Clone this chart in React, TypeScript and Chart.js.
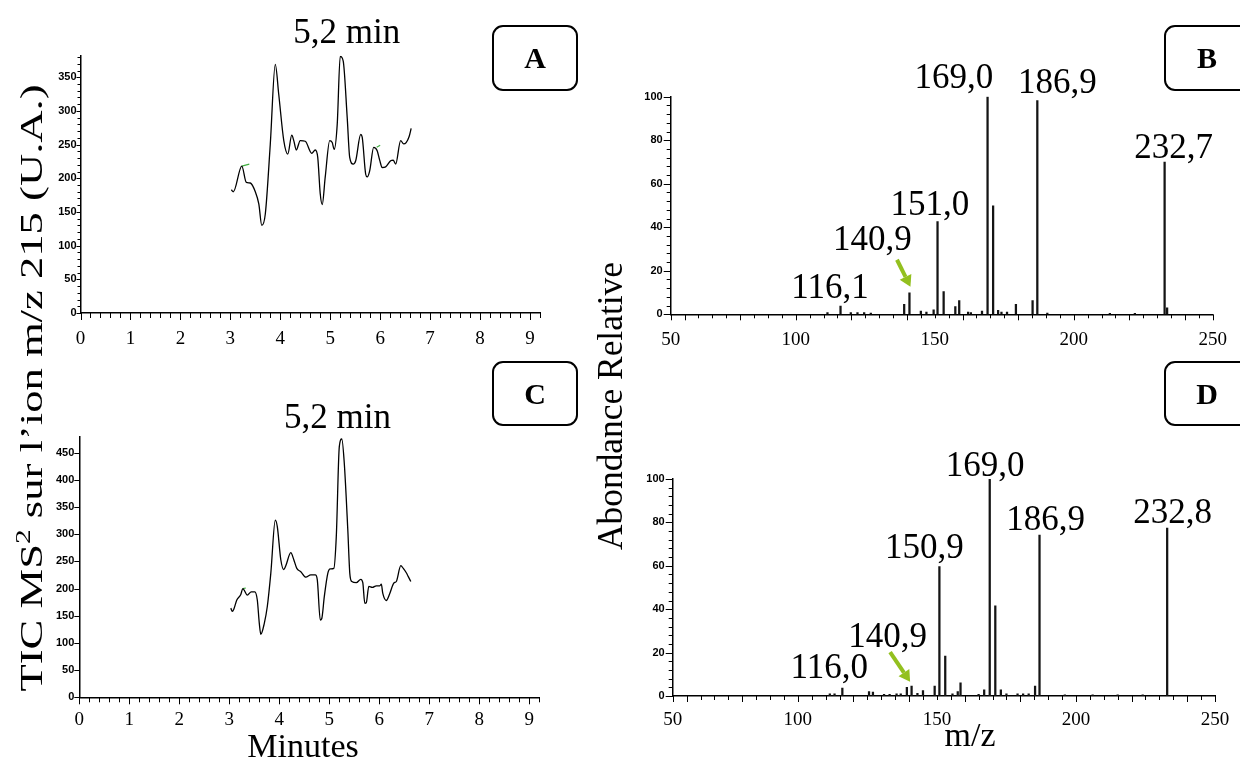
import React, { useEffect, useRef } from 'react';
import { Chart, registerables } from 'chart.js';
Chart.register(...registerables);

const SERIF = '"Liberation Serif", "Times New Roman", serif';
const SANS = '"Liberation Sans", Arial, sans-serif';

// ---------- Panel A : TIC MS2 chromatogram (time, min / intensity, U.A.)
const timeA = [3.02, 3.06, 3.23, 3.32, 3.40, 3.50, 3.57, 3.63, 3.70, 3.80, 3.90, 3.97, 4.07, 4.15, 4.23, 4.27, 4.32, 4.40, 4.50, 4.63, 4.70, 4.75, 4.80, 4.84, 4.90, 4.99, 5.04, 5.08, 5.14, 5.20, 5.26, 5.34, 5.39, 5.46, 5.51, 5.61, 5.64, 5.71, 5.74, 5.79, 5.87, 5.94, 5.99, 6.04, 6.11, 6.21, 6.26, 6.31, 6.41, 6.47, 6.52, 6.58, 6.62];
const ticA = [183, 180, 218, 194, 193, 180, 162, 130, 147, 251, 369, 324, 256, 236, 264, 256, 242, 256, 255, 237, 242, 231, 177, 161, 202, 256, 253, 243, 280, 381, 374, 290, 231, 221, 226, 265, 261, 206, 202, 211, 246, 241, 227, 216, 217, 226, 227, 221, 256, 251, 253, 262, 274];
const greenA1Time = [3.23, 3.38];
const greenA1Val = [218, 221];
const greenA2Time = [5.93, 6.0];
const greenA2Val = [246, 249];

// ---------- Panel C : TIC MS2 chromatogram
const timeC = [3.03, 3.06, 3.09, 3.15, 3.23, 3.27, 3.36, 3.44, 3.51, 3.56, 3.60, 3.63, 3.70, 3.76, 3.83, 3.92, 3.96, 4.03, 4.09, 4.13, 4.23, 4.29, 4.35, 4.43, 4.53, 4.63, 4.72, 4.76, 4.82, 4.85, 4.90, 4.97, 5.02, 5.09, 5.14, 5.20, 5.25, 5.30, 5.37, 5.41, 5.45, 5.54, 5.63, 5.67, 5.71, 5.74, 5.79, 5.86, 5.94, 6.01, 6.04, 6.07, 6.14, 6.21, 6.29, 6.34, 6.43, 6.48, 6.54, 6.58, 6.63];
const ticC = [164, 158, 162, 179, 189, 200, 188, 194, 194, 179, 136, 116, 136, 167, 228, 326, 314, 253, 235, 242, 266, 253, 237, 231, 221, 225, 225, 216, 142, 145, 185, 228, 236, 237, 296, 461, 475, 430, 308, 228, 213, 211, 217, 211, 173, 174, 204, 202, 205, 205, 208, 191, 178, 191, 210, 213, 242, 237, 229, 222, 213];
const greenC1Time = [3.27, 3.33];
const greenC1Val = [200, 201];

// ---------- Panel B : MS2 spectrum (m/z / relative abundance %)
const mzB = [111.4, 116.1, 119.8, 122.2, 124.6, 127.0, 139.0, 140.9, 145.0, 147.0, 149.6, 151.0, 153.2, 157.4, 158.8, 162.0, 163.0, 167.0, 169.0, 171.0, 172.8, 174.0, 176.0, 179.2, 185.2, 186.9, 190.5, 213.0, 222.0, 232.7, 233.6];
const abB = [0.8, 3.8, 0.8, 0.8, 0.8, 0.6, 4.6, 9.9, 1.5, 1.0, 2.0, 42.6, 10.4, 3.5, 6.3, 1.0, 0.8, 1.5, 100, 49.8, 1.8, 1.0, 1.0, 4.6, 6.3, 98.2, 0.6, 0.5, 0.5, 69.9, 3.0];
const peakTextB = ['116,1', '140,9', '151,0', '169,0', '186,9', '232,7'];
const peakMzB = [116.1, 140.9, 151.0, 169.0, 186.9, 232.7];
const peakAbB = [3.8, 9.9, 42.6, 100, 98.2, 69.9];

// ---------- Panel D : MS2 spectrum
const mzD = [111.5, 113.2, 116.0, 125.6, 127.0, 131.0, 133.0, 135.5, 137.0, 139.2, 140.9, 143.0, 145.0, 149.2, 150.9, 153.0, 155.6, 157.5, 158.5, 165.0, 167.0, 169.0, 171.0, 173.0, 175.0, 179.0, 181.0, 183.0, 185.3, 186.9, 196.0, 206.0, 215.0, 224.0, 232.8];
const abD = [1.0, 1.0, 3.7, 2.0, 1.8, 0.8, 0.8, 1.0, 1.0, 4.0, 4.6, 1.2, 2.5, 4.6, 59.6, 18.4, 1.0, 2.0, 6.1, 0.8, 2.8, 100, 41.6, 2.8, 1.0, 1.0, 1.0, 1.0, 4.6, 74.2, 0.5, 0.5, 0.5, 0.5, 77.4];
const peakTextD = ['116,0', '140,9', '150,9', '169,0', '186,9', '232,8'];
const peakMzD = [116.0, 140.9, 150.9, 169.0, 186.9, 232.8];
const peakAbD = [3.7, 4.6, 59.6, 100, 74.2, 77.4];

// ---------- axis ticks
const timeTickVals = [0, 1, 2, 3, 4, 5, 6, 7, 8, 9];
const timeTickText = ['0', '1', '2', '3', '4', '5', '6', '7', '8', '9'];
const ticTickValsA = [0, 50, 100, 150, 200, 250, 300, 350];
const ticTickValsC = [0, 50, 100, 150, 200, 250, 300, 350, 400, 450];
const mzTickVals = [55, 100, 150, 200, 250];
const mzTickText = ['50', '100', '150', '200', '250'];
const abTickVals = [0, 20, 40, 60, 80, 100];

// ---------- plugins
const tickMarksPlugin = {
  id: 'tickMarks',
  afterDraw(chart: any, _a: any, opts: any) {
    const ctx = chart.ctx;
    const area = chart.chartArea;
    ctx.save();
    ctx.strokeStyle = '#000';
    ctx.lineWidth = 1;
    const draw = (scale: any, spec: any, horizontal: boolean) => {
      if (!spec) return;
      const n = Math.round((spec.end - spec.start) / spec.step);
      for (let i = 0; i <= n; i++) {
        const v = spec.start + i * spec.step;
        const isMajor = spec.majors.some((m: number) => Math.abs(m - v) < spec.step / 1000);
        const len = isMajor ? spec.majorLen : spec.minorLen;
        const p = scale.getPixelForValue(v);
        ctx.beginPath();
        if (horizontal) {
          const x = Math.round(p) + 0.5;
          ctx.moveTo(x, area.bottom);
          ctx.lineTo(x, area.bottom + len);
        } else {
          const y = Math.round(p) + 0.5;
          ctx.moveTo(area.left - len, y);
          ctx.lineTo(area.left, y);
        }
        ctx.stroke();
      }
    };
    draw(chart.scales.x, opts.x, true);
    draw(chart.scales.y, opts.y, false);
    ctx.restore();
  },
};

const decorPlugin = {
  id: 'decor',
  afterDatasetsDraw(chart: any, _a: any, opts: any) {
    const ctx = chart.ctx;
    const xs = chart.scales.x;
    const ys = chart.scales.y;
    (opts.texts || []).forEach((t: any) => {
      ctx.save();
      ctx.font = t.font;
      ctx.fillStyle = '#000';
      ctx.textAlign = 'center';
      ctx.textBaseline = 'alphabetic';
      ctx.fillText(t.text, xs.getPixelForValue(t.x) + t.dx, ys.getPixelForValue(t.y) + t.dy);
      ctx.restore();
    });
    (opts.arrows || []).forEach((a: any) => {
      const bx = xs.getPixelForValue(a.x);
      const by = ys.getPixelForValue(a.y);
      const x1 = bx + a.tail[0], y1 = by + a.tail[1];
      const x2 = bx + a.tip[0], y2 = by + a.tip[1];
      const ang = Math.atan2(y2 - y1, x2 - x1);
      const hl = 11, hw = 6.5;
      const sx = x2 - hl * Math.cos(ang), sy = y2 - hl * Math.sin(ang);
      ctx.save();
      ctx.strokeStyle = a.color;
      ctx.fillStyle = a.color;
      ctx.lineWidth = 4;
      ctx.beginPath();
      ctx.moveTo(x1, y1);
      ctx.lineTo(sx, sy);
      ctx.stroke();
      ctx.beginPath();
      ctx.moveTo(x2, y2);
      ctx.lineTo(sx + hw * Math.sin(ang), sy - hw * Math.cos(ang));
      ctx.lineTo(sx - hw * Math.sin(ang), sy + hw * Math.cos(ang));
      ctx.closePath();
      ctx.fill();
      ctx.restore();
    });
  },
};

function xy(xs: number[], ys: number[]) {
  return xs.map((x, i) => ({ x, y: ys[i] }));
}

function axis(p: any) {
  return {
    type: 'linear',
    min: p.min,
    max: p.max,
    offset: false,
    grid: { display: false, drawTicks: true, tickLength: p.tl },
    border: { display: true, color: '#000', width: 1.5 },
    afterBuildTicks: (s: any) => {
      s.ticks = p.vals.map((v: number) => ({ value: v }));
    },
    afterFit: (s: any) => {
      if (p.w !== undefined) s.width = p.w;
      if (p.h !== undefined) s.height = p.h;
    },
    ticks: {
      autoSkip: false,
      maxRotation: 0,
      minRotation: 0,
      padding: p.pad,
      color: '#000',
      font: p.font,
      callback: (v: number) => {
        const i = p.vals.indexOf(v);
        return i >= 0 ? p.texts[i] : '';
      },
    },
  };
}

const timeFont = { family: SERIF, size: 19 };
const yFont = { family: SANS, size: 11, weight: 'bold' };

function chromConfig(p: any) {
  return {
    type: 'line',
    data: {
      datasets: [
        { data: xy(p.t, p.v), borderColor: '#000', borderWidth: 1.3, pointRadius: 0, cubicInterpolationMode: 'monotone', fill: false },
        ...p.green.map((g: any) => ({ data: xy(g[0], g[1]), borderColor: '#3fae3f', borderWidth: 1.2, pointRadius: 0, fill: false })),
      ],
    },
    options: {
      animation: false,
      responsive: false,
      events: [],
      layout: { padding: p.padding },
      plugins: {
        legend: { display: false },
        tooltip: { enabled: false },
        tickMarks: p.tickMarks,
        decor: { texts: p.texts },
      },
      scales: {
        x: axis({ min: 0, max: 9.2, vals: timeTickVals, texts: timeTickText, tl: 7, pad: p.xpad, h: p.xh, font: timeFont }),
        y: axis({ min: 0, max: p.ymax, vals: p.yvals, texts: p.yvals.map(String), tl: p.ytl, pad: 0, w: p.yw, font: yFont }),
      },
    },
    plugins: [tickMarksPlugin, decorPlugin],
  };
}

function specConfig(p: any) {
  const texts = p.labels.map((t: string, i: number) => ({
    text: t, x: p.pmz[i], y: p.pab[i], dx: p.offs[i][0], dy: p.offs[i][1], font: `35px ${SERIF}`,
  }));
  return {
    type: 'bar',
    data: {
      datasets: [{ data: xy(p.mz, p.ab), backgroundColor: '#141414', borderWidth: 0, barThickness: 1.6 }],
    },
    options: {
      animation: false,
      responsive: false,
      events: [],
      layout: { padding: p.padding },
      plugins: {
        legend: { display: false },
        tooltip: { enabled: false },
        tickMarks: {
          x: { start: 55, end: 250, step: 5, majors: [55, 60, 80, 100, 120, 140, 160, 180, 200, 220, 240, 250], minorLen: 4, majorLen: 6 },
          y: { start: 0, end: 100, step: 4, majors: abTickVals, minorLen: 4, majorLen: 7 },
        },
        decor: { texts, arrows: [{ x: 140.9, y: p.arrowAb, tail: p.arrow[0], tip: p.arrow[1], color: '#93c01f' }] },
      },
      scales: {
        x: axis({ min: 55, max: 250, vals: mzTickVals, texts: mzTickText, tl: 6, pad: p.xpad, h: p.xh, font: timeFont }),
        y: axis({ min: 0, max: 100, vals: abTickVals, texts: abTickVals.map(String), tl: 7, pad: 1, w: p.yw, font: yFont }),
      },
    },
    plugins: [tickMarksPlugin, decorPlugin],
  };
}

function ChartBox({ left, top, width, height, make }: any) {
  const ref = useRef<HTMLCanvasElement>(null);
  useEffect(() => {
    const chart = new Chart(ref.current as HTMLCanvasElement, make() as any);
    return () => chart.destroy();
  }, []);
  return (
    <canvas ref={ref} width={width} height={height}
      style={{ position: 'absolute', left, top, width, height }} />
  );
}

const cfgA = () => chromConfig({
  t: timeA, v: ticA, green: [[greenA1Time, greenA1Val], [greenA2Time, greenA2Val]],
  padding: { left: 0, top: 45.7, right: 20, bottom: 0 },
  ymax: 382, yvals: ticTickValsA, ytl: 4, yw: 50.5, xpad: 8, xh: 42,
  tickMarks: {
    x: { start: 0, end: 9.2, step: 0.2, majors: timeTickVals, minorLen: 5, majorLen: 7 },
    y: { start: 0, end: 380, step: 10, majors: ticTickValsA, minorLen: 3, majorLen: 4 },
  },
  texts: [{ text: '5,2 min', x: 5.2, y: 382, dx: 6.5, dy: -12.7, font: `35px ${SERIF}` }],
});

const cfgC = () => chromConfig({
  t: timeC, v: ticC, green: [[greenC1Time, greenC1Val]],
  padding: { left: 0, top: 66.3, right: 20.7, bottom: 0 },
  ymax: 480, yvals: ticTickValsC, ytl: 5, yw: 49.3, xpad: 4, xh: 37.7,
  tickMarks: {
    x: { start: 0, end: 9.2, step: 0.2, majors: timeTickVals, minorLen: 5, majorLen: 7 },
    y: { start: 0, end: 450, step: 50, majors: ticTickValsC, minorLen: 5, majorLen: 5 },
  },
  texts: [{ text: '5,2 min', x: 5.2, y: 480, dx: -1.8, dy: -8.3, font: `35px ${SERIF}` }],
});

const cfgB = () => specConfig({
  mz: mzB, ab: abB, labels: peakTextB, pmz: peakMzB, pab: peakAbB,
  offs: [[-10.6, -8], [-37, -43], [-7.6, -6.6], [-33.6, -8.7], [20, -7.6], [9, -4]],
  arrowAb: 9.9, arrow: [[-12.5, -33], [1, -6]],
  padding: { left: 0, top: 56.7, right: 27.3, bottom: 0 },
  yw: 50.7, xpad: 8.3, xh: 40.7,
});

const cfgD = () => specConfig({
  mz: mzD, ab: abD, labels: peakTextD, pmz: peakMzD, pab: peakAbD,
  offs: [[-13, -10], [-24, -39], [-15, -8.7], [-4.6, -3], [6, -5], [5.5, -5]],
  arrowAb: 4.6, arrow: [[-21.5, -34], [-1.5, -4.3]],
  padding: { left: 0, top: 99, right: 25, bottom: 0 },
  yw: 52.7, xpad: 6.6, xh: 39,
});

const boxes = [
  { letter: 'A', x: 493, y: 26, w: 84, h: 64 },
  { letter: 'B', x: 1165, y: 26, w: 84, h: 64 },
  { letter: 'C', x: 493, y: 362, w: 84, h: 63 },
  { letter: 'D', x: 1165, y: 362, w: 84, h: 63 },
];

export default function App() {
  return (
    <div style={{ position: 'fixed', left: 0, top: 0, width: 1240, height: 769, background: '#fff', overflow: 'hidden' }}>
      <ChartBox left={30} top={10} width={530} height={345} make={cfgA} />
      <ChartBox left={30} top={370} width={530} height={365} make={cfgC} />
      <ChartBox left={620} top={40} width={620} height={315} make={cfgB} />
      <ChartBox left={620} top={380} width={620} height={355} make={cfgD} />
      <svg width={1240} height={769} style={{ position: 'absolute', left: 0, top: 0, pointerEvents: 'none' }}>
        {boxes.map((b) => (
          <g key={b.letter}>
            <rect x={b.x} y={b.y} width={b.w} height={b.h} rx={10} ry={10} fill="none" stroke="#000" strokeWidth={2} />
            <text x={b.x + b.w / 2} y={b.y + 42} textAnchor="middle" fontFamily={SERIF} fontWeight="bold" fontSize={30}>{b.letter}</text>
          </g>
        ))}
        <text transform="translate(42,388) rotate(-90)" textAnchor="middle" fontFamily={SERIF} fontSize={32}
          textLength={607} lengthAdjust="spacingAndGlyphs">
          TIC MS<tspan fontSize={21} dy={-12}>2</tspan><tspan dy={12}> sur l’ion m/z 215 (U.A.)</tspan>
        </text>
        <text transform="translate(622,406) rotate(-90)" textAnchor="middle" fontFamily={SERIF} fontSize={36}
          textLength={288} lengthAdjust="spacingAndGlyphs">Abondance Relative</text>
        <text x={303} y={757} textAnchor="middle" fontFamily={SERIF} fontSize={34}>Minutes</text>
        <text x={970} y={746} textAnchor="middle" fontFamily={SERIF} fontSize={34}>m/z</text>
      </svg>
    </div>
  );
}
